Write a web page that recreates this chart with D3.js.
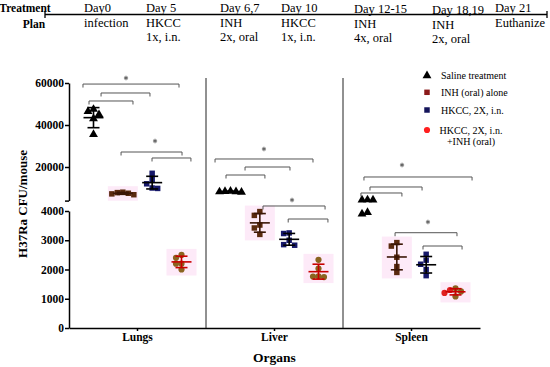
<!DOCTYPE html>
<html><head><meta charset="utf-8">
<script src="https://cdn.jsdelivr.net/npm/d3@7"></script>
<style>body{margin:0;background:#fff}svg{display:block}svg text{font-family:"Liberation Serif","DejaVu Serif",serif}</style>
</head><body><svg id="c" width="550" height="367"></svg>
<script>
// ---------- data ----------
const organs = ["Lungs", "Liver", "Spleen"];
const seriesNames = ["Saline treatment", "INH (oral) alone", "HKCC, 2X, i.n.", "HKCC, 2X, i.n.|+INH (oral)"];
const salineVals = [[46500, 47500, 45000, 43000, 35500], [8500, 8300, 8200, 8400, 8000], [4400, 4300, 4350, 3950, 3900]];
const inhVals    = [[8000, 7500, 7200, 7800, 6800], [3980, 3850, 3520, 3420, 3200], [2920, 2800, 2420, 2100, 1900]];
const hkccVals   = [[17000, 14000, 12000, 10000, 9800], [3250, 3230, 3000, 2850, 2830], [2520, 2320, 2180, 2000, 1790]];
const comboVals  = [[2400, 2500, 2200, 2200, 2000], [2330, 2030, 1760, 1740, 1770], [1360, 1300, 1250, 1200, 1080]];
const upperTicks = [4000, 20000, 40000, 60000];
const lowerTicks = [0, 1000, 2000, 3000, 4000];
// significance brackets: organ, band fraction start, end, value, axis segment
const brackets = [
  [0, 0.102, 0.803, 59500, "u"], [0, 0.234, 0.591, 55240, "u"], [0, 0.146, 0.467, 51430, "u"],
  [0, 0.380, 0.825, 27140, "u"], [0, 0.606, 0.890, 24290, "u"],
  [1, 0.066, 0.781, 23810, "u"], [1, 0.285, 0.613, 20000, "u"], [1, 0.146, 0.430, 16190, "u"],
  [1, 0.416, 0.869, 1430, "u"], [1, 0.600, 0.890, 3726, "l"],
  [2, 0.153, 0.942, 15240, "u"], [2, 0.197, 0.577, 10480, "u"], [2, 0.131, 0.430, 7620, "u"],
  [2, 0.380, 0.832, 3258, "l"], [2, 0.584, 0.869, 2803, "l"]
];
const stars = [
  [0, 0.416, 62380, "u"], [0, 0.628, 32380, "u"],
  [1, 0.423, 28570, "u"], [1, 0.628, 4290, "u"],
  [2, 0.431, 20950, "u"], [2, 0.620, 3624, "l"]
];
const planDays  = ["Day0", "Day 5", "Day 6,7", "Day 10", "Day 12-15", "Day 18,19", "Day 21"];
const planLine1 = ["infection", "HKCC", "INH", "HKCC", "INH", "INH", "Euthanize"];
const planLine2 = ["", "1x, i.n.", "2x, oral", "1x, i.n.", "4x, oral", "2x, oral", ""];

// ---------- layout ----------
const svg = d3.select("#c");
const X0 = 69, X1 = 480;
const yUpper = d3.scaleLinear().domain([4000, 60000]).range([200.6, 83]);
const yLower = d3.scaleLinear().domain([0, 4000]).range([328, 211]);
const yv = v => v >= 4000 ? yUpper(v) : yLower(v);
const ys = (v, s) => s === "u" ? yUpper(v) : yLower(v);
const x = d3.scaleBand().domain(organs).range([X0, X1]);
const sub = d3.scalePoint().domain(d3.range(4)).range([-44, 44]);

// ---------- treatment plan ----------
const planX = [84, 146, 220, 281, 354, 432, 495];
const planDy = [0, 0, 0, 0, 1, 2, 0];
const plan = svg.append("g");
plan.append("text").attr("x", 25).attr("y", 12).attr("text-anchor", "middle")
  .attr("font-weight", "bold").attr("font-size", 11.5).text("Treatment");
plan.append("text").attr("x", 34).attr("y", 28).attr("text-anchor", "middle")
  .attr("font-weight", "bold").attr("font-size", 11.5).text("Plan");
plan.append("line").attr("x1", 45).attr("x2", 547).attr("y1", 14.5).attr("y2", 14.5).attr("stroke", "#000").attr("stroke-width", 1.3);
[45, 547].forEach(px => plan.append("line").attr("x1", px).attr("x2", px).attr("y1", 11).attr("y2", 18).attr("stroke", "#000").attr("stroke-width", 1.3));
planDays.forEach((d, i) => {
  const g = plan.append("g").attr("font-size", 12.5);
  g.append("text").attr("x", planX[i]).attr("y", 12 + planDy[i]).text(d);
  g.append("text").attr("x", planX[i]).attr("y", 27 + planDy[i]).text(planLine1[i]);
  g.append("text").attr("x", planX[i]).attr("y", 41 + planDy[i]).text(planLine2[i]);
});

// ---------- axes ----------
const fmt = d3.format("d");
const axU = svg.append("g").attr("transform", `translate(${X0},0)`)
  .call(d3.axisLeft(yUpper).tickValues(upperTicks).tickFormat(d => d === 4000 ? "" : fmt(d)).tickSize(4).tickSizeOuter(0));
const axL = svg.append("g").attr("transform", `translate(${X0},0)`)
  .call(d3.axisLeft(yLower).tickValues(lowerTicks).tickFormat(fmt).tickSize(4).tickSizeOuter(0));
[axU, axL].forEach(a => {
  a.attr("font-family", null);
  a.selectAll("path,line").attr("stroke", "#000").attr("stroke-width", 1.5);
  a.selectAll("text").attr("font-weight", "bold").attr("font-size", 11.5).attr("fill", "#000").attr("x", -5);
});
const axX = svg.append("g").attr("transform", `translate(0,${yLower(0)})`)
  .call(d3.axisBottom(x).tickSize(3).tickSizeOuter(0));
axX.attr("font-family", null);
axX.selectAll("path,line").attr("stroke", "#000").attr("stroke-width", 1.5);
axX.selectAll("text").attr("font-weight", "bold").attr("font-size", 11.5).attr("fill", "#000").attr("y", 5);

// separators
organs.slice(1).forEach(o => svg.append("line").attr("x1", x(o)).attr("x2", x(o))
  .attr("y1", 78).attr("y2", yLower(0)).attr("stroke", "#222").attr("stroke-width", 1));

svg.append("text").attr("transform", `translate(27,204) rotate(-90)`).attr("text-anchor", "middle")
  .attr("font-weight", "bold").attr("font-size", 13).text("H37Ra CFU/mouse");
svg.append("text").attr("x", (X0 + X1) / 2).attr("y", 362).attr("text-anchor", "middle")
  .attr("font-weight", "bold").attr("font-size", 13.5).text("Organs");

// ---------- series ----------
const series = [
  {vals: salineVals, shape: d3.symbolTriangle, size: 34, fill: "#000", err: "#000", pink: false},
  {vals: inhVals, shape: d3.symbolSquare, size: 30, fill: "#5a2a0e", err: "#3a1606", pink: true},
  {vals: hkccVals, shape: d3.symbolSquare, size: 30, fill: "#16186a", err: "#000", pink: false},
  {vals: comboVals, shape: d3.symbolCircle, size: 30, fill: "#8a6420", err: "#c80000", pink: true}
];

function swarm(values, cx, d) {
  const pts = values.map(v => ({v, y: yv(v)})).sort((a, b) => a.y - b.y);
  const placed = [];
  for (const p of pts) {
    for (let k = 0; k < 30; k++) {
      const off = k === 0 ? 0 : (k % 2 ? -1 : 1) * Math.ceil(k / 2) * d;
      const px = cx + off;
      if (placed.every(q => Math.hypot(q.x - px, q.y - p.y) >= d)) { p.x = px; break; }
    }
    placed.push(p);
  }
  return placed;
}

const gData = svg.append("g");
series.forEach((s, si) => {
  organs.forEach((o, oi) => {
    const vals = s.vals[oi];
    const cx = x(o) + x.bandwidth() / 2 + sub(si);
    if (s.pink) {
      const top = yv(d3.max(vals)) - 6, bot = yv(d3.min(vals)) + 6;
      gData.append("rect").attr("x", cx - 15).attr("y", top).attr("width", 30).attr("height", bot - top)
        .attr("fill", "#fdeaf8");
    }
  });
});
series.forEach((s, si) => {
  organs.forEach((o, oi) => {
    const vals = s.vals[oi];
    const cx = x(o) + x.bandwidth() / 2 + sub(si);
    const pts = swarm(vals, cx, 5.5);
    const fill = (si === 3 && oi === 2) ? null : s.fill;
    gData.selectAll(null).data(pts).enter().append("path")
      .attr("d", d3.symbol().type(s.shape).size(s.size))
      .attr("transform", p => `translate(${p.x},${p.y})`)
      .attr("fill", (p, i) => fill || (i % 2 ? "#e02020" : "#8a6420"));
    const m = d3.mean(vals), sd = d3.deviation(vals);
    const hi = m + sd, lo = m - sd;
    if ((hi >= 4000) !== (lo >= 4000)) return;
    const g = gData.append("g").attr("stroke", s.err).attr("stroke-width", 1.6);
    g.append("line").attr("x1", cx).attr("x2", cx).attr("y1", yv(hi)).attr("y2", yv(lo));
    g.append("line").attr("x1", cx - 6).attr("x2", cx + 6).attr("y1", yv(hi)).attr("y2", yv(hi));
    g.append("line").attr("x1", cx - 6).attr("x2", cx + 6).attr("y1", yv(lo)).attr("y2", yv(lo));
    g.append("line").attr("x1", cx - 10).attr("x2", cx + 10).attr("y1", yv(m)).attr("y2", yv(m));
  });
});

// ---------- brackets ----------
const bx = (oi, f) => x(organs[oi]) + f * x.bandwidth();
brackets.forEach(([oi, f0, f1, v, seg]) => {
  const y = ys(v, seg), a = bx(oi, f0), b = bx(oi, f1);
  svg.append("path").attr("d", `M${a},${y + 3.5}V${y}H${b}V${y + 3.5}`)
    .attr("fill", "none").attr("stroke", "#555").attr("stroke-width", 1);
});
stars.forEach(([oi, f, v, seg]) => {
  svg.append("path").attr("d", d3.symbol().type(d3.symbolAsterisk).size(14))
    .attr("transform", `translate(${bx(oi, f)},${ys(v, seg)})`)
    .attr("fill", "none").attr("stroke", "#666").attr("stroke-width", 1.1);
});

// ---------- legend ----------
const leg = svg.append("g");
const legY = [75.7, 92.3, 110, 130];
series.forEach((s, i) => {
  leg.append("path").attr("d", d3.symbol().type(s.shape).size(i === 0 ? 34 : 30))
    .attr("transform", `translate(427,${legY[i]})`)
    .attr("fill", ["#000", "#8b1a1a", "#14145a", "#ff1f1f"][i]);
  const lines = seriesNames[i].split("|");
  const t = leg.append("text").attr("font-size", 10)
    .attr("x", lines.length > 1 ? 471 : 441).attr("y", legY[i] + 3.5)
    .attr("text-anchor", lines.length > 1 ? "middle" : "start");
  lines.forEach((l, j) => t.append("tspan").attr("x", lines.length > 1 ? 471 : 441).attr("dy", j ? 11.5 : 0).text(l));
});
</script></body></html>
